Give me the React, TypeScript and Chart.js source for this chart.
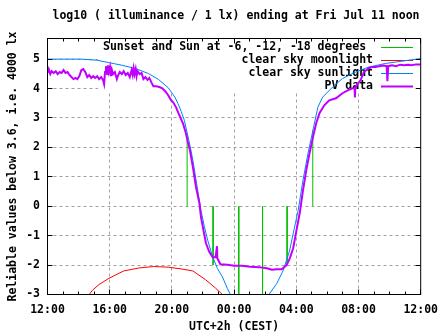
import React, { useEffect, useRef } from "react";
import { Chart, registerables } from "chart.js";
Chart.register(...registerables);

const xTickHours = [0, 4, 8, 12, 16, 20, 24];
const xTickLabels = ["12:00", "16:00", "20:00", "00:00", "04:00", "08:00", "12:00"];
const yTickValues = [-3, -2, -1, 0, 1, 2, 3, 4, 5];

const chartTitle = "log10 ( illuminance / 1 lx) ending at Fri Jul 11 noon";
const xTitle = "UTC+2h (CEST)";
const yTitle = "Reliable values below 3.6, i.e. 4000 lx";
const legendLabels = [
  "Sunset and Sun at -6, -12, -18 degrees ",
  "clear sky moonlight",
  "clear sky sunlight",
  "PV data",
];
const seriesColors = ["#00c000", "#ff0000", "#0080ff", "#c000ff"];

// Sun event markers (hours after 12:00) and the end value of each vertical line
const sunEventHours = [8.98, 10.65, 12.3, 13.83, 15.41, 17.06];
const sunEventEnds = [2.45, -2.0, -3.4, -3.4, -1.95, 2.6];

const moonHours = [2.6, 2.68, 2.9, 3.32, 3.95, 4.9, 5.86, 6.81, 7.76, 8.71, 9.35, 10.17, 10.8, 11.25, 11.35];
const moonValues = [-3.1, -3.0, -2.85, -2.66, -2.45, -2.2, -2.1, -2.05, -2.07, -2.14, -2.2, -2.5, -2.78, -3.0, -3.1];

const sunHours = [0, 2.16, 3.21, 3.95, 4.8, 5.65, 6.49, 7.13, 7.76, 8.19, 8.39, 8.6, 8.8, 9.0, 9.18, 9.35, 9.5, 9.66, 9.87, 10.09, 10.3, 10.62, 10.93, 11.25, 11.57, 11.78, 12.0, 14.0, 14.21, 14.74, 15.17, 15.58, 15.8, 16.12, 16.43, 16.75, 17.07, 17.39, 17.7, 18.34, 18.97, 19.82, 20.66, 21.72, 23.2, 24.0];
const sunValues = [5.0, 5.0, 4.96, 4.88, 4.79, 4.68, 4.51, 4.31, 4.03, 3.71, 3.49, 3.22, 2.92, 2.45, 2.02, 1.56, 1.07, 0.54, -0.14, -0.7, -1.15, -1.72, -2.12, -2.4, -2.8, -3.02, -3.6, -3.6, -3.02, -2.63, -2.17, -1.49, -0.93, -0.14, 0.88, 1.79, 2.58, 3.37, 3.71, 4.05, 4.34, 4.56, 4.73, 4.85, 4.96, 5.02];

const pvHours = [0.0, 0.08, 0.18, 0.27, 0.4, 0.53, 0.65, 0.78, 0.91, 1.03, 1.16, 1.29, 1.41, 1.54, 1.67, 1.8, 1.92, 2.05, 2.18, 2.3, 2.43, 2.56, 2.68, 2.81, 2.94, 3.06, 3.19, 3.32, 3.45, 3.57, 3.64, 3.7, 3.76, 3.83, 3.89, 3.95, 4.02, 4.08, 4.14, 4.21, 4.33, 4.46, 4.52, 4.65, 4.78, 4.9, 5.03, 5.16, 5.29, 5.41, 5.48, 5.54, 5.6, 5.67, 5.73, 5.79, 5.92, 6.05, 6.17, 6.3, 6.43, 6.55, 6.68, 6.81, 7.0, 7.19, 7.38, 7.57, 7.76, 7.95, 8.08, 8.27, 8.4, 8.59, 8.71, 8.9, 9.03, 9.16, 9.35, 9.54, 9.77, 9.87, 10.03, 10.19, 10.41, 10.62, 10.81, 10.9, 10.92, 11.12, 11.57, 12.01, 12.52, 13.03, 13.6, 14.11, 14.42, 14.74, 15.06, 15.38, 15.58, 15.8, 16.01, 16.22, 16.43, 16.64, 16.85, 17.07, 17.28, 17.49, 17.8, 18.12, 18.55, 18.97, 19.31, 19.61, 19.75, 19.77, 19.8, 19.94, 20.13, 20.34, 20.58, 20.83, 21.08, 21.34, 21.59, 21.81, 21.86, 21.91, 22.16, 22.42, 22.67, 22.93, 23.18, 23.43, 23.69, 24.0];
const pvValues = [4.53, 4.66, 4.49, 4.59, 4.53, 4.59, 4.49, 4.56, 4.53, 4.63, 4.53, 4.56, 4.46, 4.39, 4.32, 4.36, 4.32, 4.42, 4.63, 4.66, 4.56, 4.39, 4.46, 4.36, 4.42, 4.36, 4.42, 4.32, 4.39, 4.29, 4.15, 4.56, 4.76, 4.49, 4.79, 4.56, 4.73, 4.42, 4.63, 4.49, 4.56, 4.32, 4.42, 4.56, 4.49, 4.59, 4.46, 4.53, 4.39, 4.63, 4.46, 4.69, 4.49, 4.66, 4.42, 4.59, 4.49, 4.53, 4.32, 4.39, 4.29, 4.36, 4.21, 4.08, 4.08, 4.05, 4.01, 3.91, 3.77, 3.6, 3.53, 3.36, 3.19, 2.96, 2.82, 2.48, 2.17, 1.9, 1.33, 0.68, 0.1, -0.37, -0.82, -1.26, -1.56, -1.73, -1.73, -1.36, -1.77, -1.97, -1.99, -2.02, -2.02, -2.06, -2.07, -2.11, -2.16, -2.14, -2.14, -2.0, -1.77, -1.43, -0.82, -0.24, 0.54, 1.22, 1.8, 2.34, 2.82, 3.16, 3.43, 3.6, 3.67, 3.84, 3.94, 4.01, 4.01, 3.7, 4.04, 4.15, 4.28, 4.55, 4.66, 4.73, 4.73, 4.76, 4.78, 4.76, 4.25, 4.76, 4.79, 4.76, 4.81, 4.79, 4.81, 4.79, 4.82, 4.82];

const FONT = { family: "DejaVu Sans Mono", size: 11.5, weight: "bold" as const };
const FONT_STR = "bold 11.5px DejaVu Sans Mono";

const toPoints = (xs: number[], ys: number[]) => xs.map((x, i) => ({ x, y: ys[i] }));

const sunEventPoints = () => {
  const pts: { x: number; y: number | null }[] = [];
  sunEventHours.forEach((h, i) => {
    pts.push({ x: h, y: 0 }, { x: h, y: sunEventEnds[i] }, { x: h, y: null });
  });
  return pts;
};

const gnuplotStyle = {
  id: "gnuplotStyle",
  beforeDatasetsDraw(chart: any) {
    const { ctx, chartArea: a, scales } = chart;
    const x = scales.x;
    const y = scales.y;
    ctx.save();
    // title
    ctx.font = FONT_STR;
    ctx.fillStyle = "#000";
    ctx.textAlign = "center";
    ctx.textBaseline = "middle";
    ctx.fillText(chartTitle, 236, 16);
    // grid
    ctx.strokeStyle = "#a0a0a0";
    ctx.lineWidth = 1;
    ctx.setLineDash([3, 3]);
    ctx.beginPath();
    xTickHours.slice(1, -1).forEach((h) => {
      const px = Math.floor(x.getPixelForValue(h)) + 0.5;
      ctx.moveTo(px, a.bottom);
      ctx.lineTo(px, a.top);
    });
    yTickValues.slice(1).forEach((v) => {
      const py = Math.floor(y.getPixelForValue(v)) + 0.5;
      ctx.moveTo(a.left, py);
      ctx.lineTo(a.right, py);
    });
    ctx.stroke();
    ctx.setLineDash([]);
    // key box (opaque)
    ctx.fillStyle = "#ffffff";
    ctx.fillRect(98, a.top, a.right - 98, 92 - a.top);
    // key entries
    ctx.fillStyle = "#000";
    ctx.textAlign = "right";
    legendLabels.forEach((t, i) => {
      const ry = 47.5 + i * 13;
      ctx.fillText(t, 373, ry);
      ctx.strokeStyle = seriesColors[i];
      ctx.lineWidth = i === 3 ? 2 : 1;
      ctx.beginPath();
      ctx.moveTo(381, ry);
      ctx.lineTo(413, ry);
      ctx.stroke();
    });
    ctx.restore();
  },
  afterDatasetsDraw(chart: any) {
    const { ctx, chartArea: a, scales } = chart;
    const x = scales.x;
    const y = scales.y;
    ctx.save();
    ctx.strokeStyle = "#000";
    ctx.lineWidth = 1;
    ctx.beginPath();
    for (let h = 0; h <= 24; h++) {
      const len = h % 4 === 0 ? 5 : 3;
      const px = Math.floor(x.getPixelForValue(h)) + 0.5;
      ctx.moveTo(px, a.bottom);
      ctx.lineTo(px, a.bottom - len);
      ctx.moveTo(px, a.top);
      ctx.lineTo(px, a.top + len);
    }
    yTickValues.forEach((v) => {
      const py = Math.floor(y.getPixelForValue(v)) + 0.5;
      ctx.moveTo(a.left, py);
      ctx.lineTo(a.left + 5, py);
      ctx.moveTo(a.right, py);
      ctx.lineTo(a.right - 5, py);
    });
    ctx.stroke();
    ctx.strokeRect(a.left, a.top, a.right - a.left, a.bottom - a.top);
    ctx.restore();
  },
};

export default function App() {
  const ref = useRef<HTMLCanvasElement | null>(null);
  useEffect(() => {
    if (!ref.current) return;
    const chart = new Chart(ref.current, {
      type: "line",
      data: {
        datasets: [
          {
            label: legendLabels[3],
            data: toPoints(pvHours, pvValues),
            borderColor: seriesColors[3],
            borderWidth: 2,
            pointRadius: 0,
          },
          {
            label: legendLabels[2],
            data: toPoints(sunHours, sunValues),
            borderColor: seriesColors[2],
            borderWidth: 1,
            pointRadius: 0,
          },
          {
            label: legendLabels[1],
            data: toPoints(moonHours, moonValues),
            borderColor: seriesColors[1],
            borderWidth: 1,
            pointRadius: 0,
          },
          {
            label: legendLabels[0],
            data: sunEventPoints() as any,
            borderColor: seriesColors[0],
            borderWidth: 1,
            pointRadius: 0,
            spanGaps: false,
          },
        ],
      },
      options: {
        animation: false,
        responsive: false,
        devicePixelRatio: 1,
        layout: { padding: { left: 0, right: 20.5, top: 38.5, bottom: 0 } },
        plugins: {
          legend: { display: false },
          tooltip: { enabled: false },
          title: { display: false },
        },
        scales: {
          x: {
            type: "linear",
            min: 0,
            max: 24,
            grid: { display: false, drawTicks: false },
            border: { display: false },
            afterBuildTicks: (s: any) => {
              s.ticks = xTickHours.map((v) => ({ value: v }));
            },
            afterFit: (s: any) => {
              s.height = 40.5;
            },
            ticks: {
              autoSkip: false,
              maxRotation: 0,
              color: "#000",
              font: FONT,
              padding: 9,
              callback: (v: any) => xTickLabels[xTickHours.indexOf(Number(v))] ?? "",
            },
            title: {
              display: true,
              text: xTitle,
              color: "#000",
              font: FONT,
              padding: { top: 0, bottom: 1 },
            },
          },
          y: {
            type: "linear",
            min: -3,
            max: 5.7,
            grid: { display: false, drawTicks: false },
            border: { display: false },
            afterBuildTicks: (s: any) => {
              s.ticks = yTickValues.map((v) => ({ value: v }));
            },
            afterFit: (s: any) => {
              s.width = 47.5;
            },
            ticks: {
              color: "#000",
              font: FONT,
              padding: 7.5,
              callback: (v: any) => String(v),
            },
            title: {
              display: true,
              text: yTitle,
              color: "#000",
              font: FONT,
              padding: { top: 6.6, bottom: 0 },
            },
          },
        },
      },
      plugins: [gnuplotStyle],
    } as any);
    return () => chart.destroy();
  }, []);
  return (
    <div style={{ position: "absolute", left: 0, top: 0, width: 447, height: 335 }}>
      <canvas ref={ref} width={447} height={335} />
    </div>
  );
}
